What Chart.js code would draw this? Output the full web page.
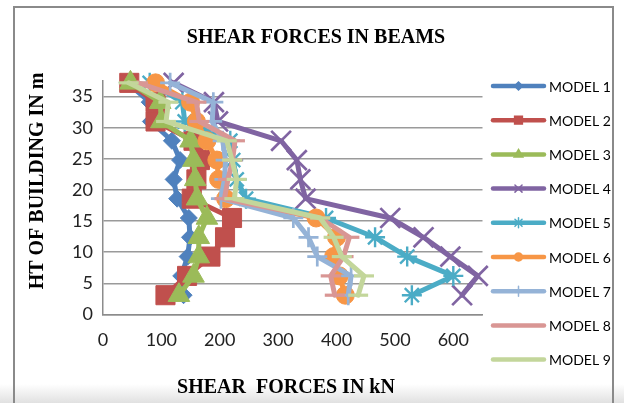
<!DOCTYPE html>
<html>
<head>
<meta charset="utf-8">
<script src="https://cdn.jsdelivr.net/npm/chart.js@4.4.0/dist/chart.umd.min.js"></script>
<style>
  html, body { margin: 0; padding: 0; background: #ffffff; }
  #wrap { position: relative; width: 624px; height: 403px; }
</style>
</head>
<body>
<div id="wrap"><canvas id="c" width="624" height="403"></canvas></div>
<script>
// Storey levels (m), bottom to top
const heights = [3.1, 6.2, 9.3, 12.4, 15.5, 18.6, 21.7, 24.8, 27.9, 31.0, 34.1, 37.2];

// Beam shear force (kN) at each level, one array per model
const model1 = [138, 134, 145, 149, 147, 127, 121, 132, 118, 82, 80, 42];
const model2 = [107, 144, 184, 209, 221, 152, 160, 166, 155, 90, 90, 45];
const model3 = [130, 155, 164, 164, 178, 161, 158, 155, 150, 100, 98, 47];
const model4 = [615, 642, 595, 549, 492, 347, 338, 332, 305, 197, 190, 121];
const model5 = [529, 600, 521, 466, 382, 245, 229, 223, 218, 140, 136, 80];
const model6 = [415, 405, 395, 400, 365, 210, 198, 195, 178, 160, 150, 90];
const model7 = [420, 425, 367, 352, 326, 202, 208, 210, 205, 187, 189, 115];
const model8 = [397, 390, 412, 422, 372, 208, 214, 222, 226, 165, 160, 60];
const model9 = [437, 447, 409, 395, 372, 225, 229, 221, 212, 108, 112, 44];

const seriesNames = ['MODEL 1', 'MODEL 2', 'MODEL 3', 'MODEL 4', 'MODEL 5',
                     'MODEL 6', 'MODEL 7', 'MODEL 8', 'MODEL 9'];
const xTicks = [0, 100, 200, 300, 400, 500, 600];
const yTicks = [0, 5, 10, 15, 20, 25, 30, 35];

const seriesValues = [model1, model2, model3, model4, model5, model6, model7, model8, model9];
const colors = ['#4F81BD', '#C0504D', '#9BBB59', '#8064A2', '#4BACC6',
                '#F79646', '#95B3D7', '#D99694', '#C3D69B'];
// marker: style, radius in plot, border width, radius in legend
const markers = [
  ['rectRot', 8.5, 1, 4],
  ['rect', 13.5, 1, 5.5],
  ['triangle', 12.5, 1, 5],
  ['crossRot', 14, 2.7, 5],
  ['star', 10, 2.4, 5],
  ['circle', 9, 1, 4],
  ['cross', 10, 2.7, 5],
  ['line', 10, 3.2, 0],
  ['line', 10, 3.2, 0]
];

const datasets = seriesValues.map((vals, i) => ({
  label: seriesNames[i],
  data: vals.map((v, k) => ({ x: v, y: heights[k] })),
  showLine: true,
  borderColor: colors[i],
  backgroundColor: colors[i],
  borderWidth: 5,
  borderJoinStyle: 'round',
  borderCapStyle: 'round',
  pointStyle: markers[i][0],
  pointRadius: markers[i][1],
  pointBorderWidth: markers[i][2],
  pointBackgroundColor: colors[i],
  pointBorderColor: colors[i],
  legendRadius: markers[i][3],
  order: seriesValues.length - i,
  clip: false
}));

const frameAndText = {
  id: 'frameAndText',
  beforeDraw(chart) {
    const ctx = chart.ctx;
    ctx.save();
    ctx.fillStyle = '#ffffff';
    ctx.fillRect(0, 0, chart.width, chart.height);
    // soft shadow strip below the frame
    const g = ctx.createLinearGradient(0, 384, 0, 403);
    g.addColorStop(0, 'rgba(200,200,200,0)');
    g.addColorStop(1, 'rgba(200,200,200,0.55)');
    ctx.fillStyle = g;
    ctx.fillRect(0, 384, chart.width, 19);
    ctx.strokeStyle = '#8a8a8a';
    ctx.lineWidth = 2;
    ctx.beginPath();
    ctx.moveTo(14, 403);
    ctx.lineTo(14, 7);
    ctx.lineTo(613, 7);
    ctx.lineTo(613, 403);
    ctx.stroke();
    ctx.restore();
  },
  afterDraw(chart) {
    const ctx = chart.ctx;
    ctx.save();
    ctx.fillStyle = '#000000';
    ctx.textAlign = 'center';
    ctx.textBaseline = 'middle';
    ctx.font = 'bold 20px "Liberation Serif", serif';
    ctx.fillText('SHEAR FORCES IN BEAMS', 316, 38);
    ctx.fillText('SHEAR  FORCES IN kN', 286, 388);
    ctx.translate(38, 181);
    ctx.rotate(-Math.PI / 2);
    ctx.fillText('HT OF BUILDING IN m', 0, 0);
    ctx.restore();

    // legend on the right
    ctx.save();
    chart.data.datasets.forEach((ds, i) => {
      const y = 86 + i * 34.2;
      ctx.strokeStyle = ds.borderColor;
      ctx.lineWidth = 4.5;
      ctx.lineCap = 'round';
      ctx.beginPath();
      ctx.moveTo(493, y);
      ctx.lineTo(544, y);
      ctx.stroke();
      if (ds.legendRadius > 0) {
        ctx.fillStyle = ds.borderColor;
        ctx.strokeStyle = ds.borderColor;
        ctx.lineWidth = 1.5;
        Chart.helpers.drawPoint(ctx, {
          pointStyle: ds.pointStyle, radius: ds.legendRadius, rotation: 0, borderWidth: 1.5
        }, 518.5, y);
      }
      ctx.fillStyle = '#000000';
      ctx.textAlign = 'left';
      ctx.textBaseline = 'middle';
      ctx.font = '14px Lato, sans-serif';
      ctx.fillText(ds.label, 549, y + 1);
    });
    ctx.restore();
  }
};

new Chart(document.getElementById('c'), {
  type: 'scatter',
  data: { datasets },
  plugins: [frameAndText],
  options: {
    responsive: false,
    animation: false,
    devicePixelRatio: 1,
    layout: { padding: { left: 63, right: 141.5, top: 81, bottom: 48.5 } },
    plugins: { legend: { display: false }, tooltip: { enabled: false }, title: { display: false } },
    scales: {
      x: {
        type: 'linear', min: 0, max: 650,
        afterBuildTicks: s => { s.ticks = xTicks.map(v => ({ value: v })); },
        afterFit: s => { s.height = 40; },
        grid: { display: false, drawTicks: false },
        border: { display: true, color: '#8c8c8c', width: 1.5 },
        ticks: { color: '#222', padding: 15, maxRotation: 0, font: { family: 'Lato', size: 18 } }
      },
      y: {
        type: 'linear', min: 0, max: 37.5,
        afterBuildTicks: s => { s.ticks = yTicks.map(v => ({ value: v })); },
        afterFit: s => { s.width = 40; },
        grid: { color: '#9a9a9a', lineWidth: 1.5, drawTicks: false },
        border: { display: true, color: '#8c8c8c', width: 1.5 },
        ticks: { color: '#222', padding: 10, font: { family: 'Lato', size: 18 } }
      }
    }
  }
});
</script>
</body>
</html>
